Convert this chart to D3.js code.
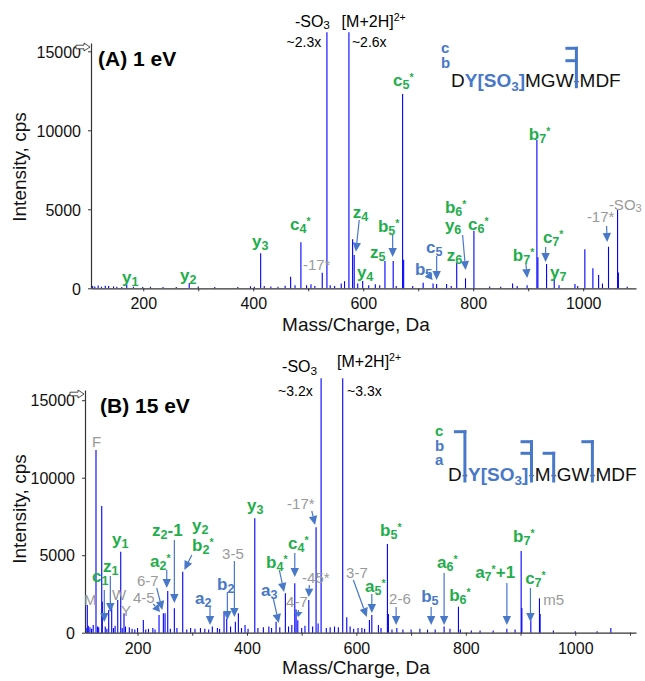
<!DOCTYPE html>
<html><head><meta charset="utf-8">
<script src="https://cdn.jsdelivr.net/npm/d3@7"></script>
<style>
body{margin:0;background:#fff}
svg{display:block}
text{font-family:"Liberation Sans",Arial,Helvetica,sans-serif}
</style>
</head><body>
<svg id="chart" width="645" height="681"></svg>
<script>
// ---------------- DATA ----------------
const xTicks = [100,200,300,400,500,600,700,800,900,1000,1100];
const xTickLabels = [200,400,600,800,1000];
const yTicks = [0,5000,10000,15000];
const panelTitles = ["(A) 1 eV","(B) 15 eV"];
const xTitle = "Mass/Charge, Da";
const yTitle = "Intensity, cps";

// Panel A (1 eV): m/z and intensity of sticks
const massA = [108,112,118,124,131,137,146,152,161,170,182,199,213,236,260,283.6,300,330,372,395,402,413.5,420,432,445,458,468,476,486.7,497,505,512,525.5,534,540,548,560,566,574,580.7,583.6,590,599,610,622,630,639.5,654.5,660,671.6,673.5,690,709,727,733.5,751.6,760,770,786,801.3,830,850,871.6,880,898,915.8,917.6,933.4,947.3,956,985,990,1003,1017.6,1028,1035,1046,1062.5,1064,1080];
const intA  = [150,120,180,100,160,140,120,100,90,220,100,80,100,80,90,330,110,80,90,130,100,2215,140,120,100,160,730,200,2910,200,260,150,990,16200,200,150,300,450,16200,3100,2100,300,460,200,250,200,1730,1730,150,12300,1800,150,350,300,280,280,150,1620,630,3650,120,100,300,150,200,9390,1960,1540,630,200,280,150,2470,1270,840,300,2630,4960,1000,100];

// Panel B (15 eV)
const massB = [106,108.2,110,113,116,119,124.1,127,129,134.6,135.6,141,144,147.3,152.8,156,159,163.8,169.3,172,175.3,178,185,190,195,200,210.6,215,220,228,232,239.3,247.2,250.3,255.2,260,267.3,272,282.6,290,297,305,315,323,330,336.7,346,350,358.1,363,370,378.8,384.3,390,396.5,402,414.3,420,430,440,445,453.2,460,470.2,476,482,487.4,489.8,492.9,500,506,513,520,526.3,530,535.5,545,552,560,567,575,582.4,588.5,595,603,610,615,623.8,628.2,640.2,645,656.7,658.5,665,673.9,685,700,716,730,744,760.3,771,786.5,790,810,826,850,875,890,901.1,902.4,918.8,934.6,935.8,960,1000,1040,1065];
const intB  = [300,1790,450,350,250,500,11790,400,350,8170,2000,400,250,1460,1680,300,450,2110,5230,300,1250,400,350,250,200,300,820,200,250,300,200,1140,1250,1250,2690,250,1570,300,3940,200,300,250,300,250,200,400,300,250,1355,900,400,710,1250,300,500,250,7380,300,350,400,300,700,350,2540,400,500,3190,1500,800,300,450,2110,400,6800,600,16410,300,350,400,350,16410,1000,400,250,300,300,250,820,1140,500,300,5720,1200,200,300,200,200,250,200,200,400,250,1680,200,150,150,150,250,200,5270,1600,800,2220,1200,150,100,100,300];

// Annotations: [text, m/z anchor, intensity anchor, kind]
// kind: g = green fragment, b = blue fragment, k = grey note, K = black note, s = small black note
const labelsA = [
 ["y_{1}",161.3,335,"g"],["y_{2}",266.7,462,"g"],["y_{3}",397.6,2614,"g"],
 ["c_{4}^{*}",466.7,3690,"g"],["-17*",490.4,1158,"k"],["z_{4}",581,4449,"g"],
 ["y_{4}",588.5,652,"g"],["z_{5}",612.2,1918,"g"],["b_{5}^{*}",626.7,3563,"g"],
 ["c_{5}^{*}",654,12804,"g"],["b_{5}",694,842,"b"],["c_{5}",714,2234,"b"],
 ["z_{6}",752,1728,"g"],["b_{6}^{*}",748.5,4766,"g"],["y_{6}",748.5,3626,"g"],
 ["c_{6}^{*}",790.4,3690,"g"],["b_{7}^{*}",872,1728,"g"],["b_{7}^{*}",901,9386,"g"],
 ["c_{7}^{*}",926.7,2867,"g"],["y_{7}",939.5,652,"g"],["-17*",1006.7,4196,"k"],
 ["-SO_{3}",1046.7,4956,"k"],
 ["-SO_{3}",475.8,16557,"K"],["[M+2H]^{2+}",560.7,16557,"K"],
 ["~2.3x",460.7,15291,"s"],["~2.6x",579.5,15291,"s"]
];
// arrows: [m/z start, intensity start, m/z end, intensity end]
const arrowsA = [
 [592.7,4323,586.7,2316],[653.5,3373,653.5,1981],[733.5,2044,733.5,525],
 [714,1032,726.2,525],[780.7,3373,786.2,1158],[895.8,1538,898.2,652],
 [931.6,2614,931.6,1665],[1042.5,3943,1043.6,2930]
];

const labelsB = [
 ["-SO_{3}",464.2,16821,"K"],["~3.2x",456.9,15272,"s"],
 ["[M+2H]^{2+}",564.7,17163,"K"],["~3.3x",583,15272,"s"],
 ["F",116.8,11981,"k"],["M",102.2,1787,"k"],["W",153.4,2110,"k"],["Y",169.8,1077,"k"],
 ["c_{1}",116.8,3271,"g"],["z_{1}",136.9,3916,"g"],["y_{1}",153.4,5658,"g"],
 ["a_{2}^{*}",222.9,4239,"g"],["z_{2}-1",226.5,6239,"g"],["6-7",199,3013,"k"],
 ["4-5",191.8,1916,"k"],["y_{2}",299.6,6562,"g"],["b_{2}^{*}",299.6,5271,"g"],
 ["a_{2}",305.1,1852,"b"],["3-5",354.5,4755,"k"],["b_{2}",345.3,2755,"b"],
 ["y_{3}",400.2,7852,"g"],["a_{3}",425.8,2368,"b"],["b_{4}^{*}",434.9,4174,"g"],
 ["c_{4}^{*}",475.1,5400,"g"],["-17*",473.3,7981,"k"],["-45*",500.7,3207,"k"],
 ["4-7",471.5,1658,"k"],["b_{5}^{*}",643.3,6239,"g"],["3-7",581.2,3529,"k"],
 ["a_{5}^{*}",615.9,2626,"g"],["2-6",659.8,1852,"k"],["b_{5}",718.3,1981,"b"],
 ["a_{6}^{*}",747.5,4174,"g"],["b_{6}^{*}",769.5,2045,"g"],["a_{7}^{*}+1",817,3529,"g"],
 ["b_{7}^{*}",886.3,5852,"g"],["c_{7}^{*}",908.4,3142,"g"],["m5",941.3,1787,"k"]
];
const arrowsB = [
 [139.3,2755,139.3,690],[150.3,3658,150.3,1336],[267.3,5981,267.3,1916],
 [253.4,4045,253.4,2884],[235.1,2884,245.3,1465],[228.9,1852,241.1,1336],
 [299.1,5013,285.6,4045],[332.5,1658,332.5,497],[377,4626,377,1013],
 [364.2,2626,364.2,820],[448.3,2174,458.1,626],[459.2,4045,467.8,2626],
 [487.4,5142,487.4,3594],[514,3077,513,2303],[494,1465,494,1013],
 [518.5,7852,524.5,6949],[594.5,3400,619,1013],[628.2,2497,628.2,1271],
 [672.6,1658,672.6,497],[736.6,1658,736.6,497],[760.3,3852,760.3,497],
 [875,3207,875,497],[918.1,2884,918.1,690]
];

// Peptide sequence annotations: [text, style]
const seqA = [["D","k"],["Y[SO","b"],["3","bs"],["]","b"],["MGW","k"],["-","d"],["MDF","k"]];
const seqB = [["D","k"],["-","d"],["Y[SO","b"],["3","bs"],["]","b"],["-","d"],["M","k"],["-","d"],["GW","k"],["-","d"],["MDF","k"]];
const ionsA = [["c","b"],["b","b"]];
const ionsB = [["c","g"],["b","b"],["a","b"]];
// cleavage brackets: [separator number, ion types shown]
const cutsA = [[0,["c","b"]]];
const cutsB = [[0,["c"]],[1,["b","a"]],[2,["a"]],[3,["b"]]];

// ---------------- STYLE / LAYOUT ----------------
const GREEN="#1fae4c", BLUE="#4878c8", GREY="#9a9a9a", PEAK="#0000ff";
const kinds = {
  g:{size:17,weight:"bold",fill:GREEN},
  b:{size:17,weight:"bold",fill:BLUE},
  k:{size:15,weight:"normal",fill:GREY},
  K:{size:16,weight:"normal",fill:"#000"},
  s:{size:14,weight:"normal",fill:"#000"}
};

const svg = d3.select("#chart");

const panels = [
  {mass:massA, inten:intA, labels:labelsA, arrows:arrowsA, title:panelTitles[0],
   left:91, right:636, top:43, bottom:288.3, xdom:[105,1096], ymax:15525,
   titleX:98, titleY:66, xtitleY:331, ytitleY:167, tickPad:6,
   seq:seqA, ions:ionsA, cuts:cutsA, seqX:451, seqY:86.7, ionX:441,
   ionY:[-33.7,-18.7], lev:{c:-38.4,b:-26}},
  {mass:massB, inten:intB, labels:labelsB, arrows:arrowsB, title:panelTitles[1],
   left:85, right:636, top:390, bottom:632.7, xdom:[104,1111], ymax:15659,
   titleX:100, titleY:413, xtitleY:674, ytitleY:509, tickPad:7,
   seq:seqB, ions:ionsB, cuts:cutsB, seqX:448, seqY:481, ionX:435,
   ionY:[-45,-30,-16], lev:{c:-49.3,b:-39.3,a:-27.7}}
];

function richText(g, str, x, y, k){
  const st = kinds[k];
  const t = g.append("text").attr("x",x).attr("y",y)
    .attr("font-size",st.size).attr("font-weight",st.weight).attr("fill",st.fill);
  const parts = str.match(/_\{[^}]*\}|\^\{[^}]*\}|[^_^]+/g);
  let off = 0;
  parts.forEach(p=>{
    let txt=p, target=0, fs=st.size;
    if(p[0]==="_"){txt=p.slice(2,-1); target=st.size*0.16; fs=st.size*0.74;}
    else if(p[0]==="^"){txt=p.slice(2,-1);
      if(txt==="*"){target=-st.size*0.32; fs=st.size*0.62;}
      else {target=-st.size*0.38; fs=st.size*0.66;}}
    t.append("tspan").attr("dy",target-off).attr("font-size",fs).text(txt);
    off = target;
  });
  return t;
}

panels.forEach(P=>{
  const g = svg.append("g");
  const x = d3.scaleLinear().domain(P.xdom).range([P.left,P.right]);
  const y = d3.scaleLinear().domain([0,P.ymax]).range([P.bottom,P.top]);

  // sticks
  const peaks = P.mass.map((m,i)=>({m, v:P.inten[i]}));
  g.append("g").selectAll("line").data(peaks).join("line")
    .attr("x1",d=>x(d.m)).attr("x2",d=>x(d.m))
    .attr("y1",y(0)).attr("y2",d=>y(d.v))
    .attr("stroke",PEAK).attr("stroke-width",1.1);

  // axes
  const xa = g.append("g").attr("transform",`translate(0,${P.bottom})`)
    .call(d3.axisBottom(x).tickValues(xTicks.filter(t=>t>=P.xdom[0]&&t<=P.xdom[1]))
      .tickFormat(t=>xTickLabels.includes(t)?String(t):"")
      .tickSize(3).tickSizeOuter(0).tickPadding(P.tickPad));
  const ya = g.append("g").attr("transform",`translate(${P.left},0)`)
    .call(d3.axisLeft(y).tickValues(yTicks).tickFormat(d3.format("d"))
      .tickSize(3).tickSizeOuter(0).tickPadding(7));
  [xa,ya].forEach(a=>{
    a.selectAll("text").attr("font-size",16).attr("fill","#111")
      .attr("font-family",'"Liberation Sans",Arial,sans-serif');
    a.selectAll("line").attr("stroke","#333");
    a.select(".domain").attr("stroke","#333").attr("stroke-width",1.2);
  });
  ya.selectAll("text").attr("dy","0.36em");

  // hollow arrow marker at top of y axis
  const ax = P.left, ay = P.top+4;
  g.append("path")
    .attr("d",`M${ax-15},${ay-1.8}L${ax-7},${ay-1.8}L${ax-7},${ay-4}L${ax-1},${ay}L${ax-7},${ay+4}L${ax-7},${ay+1.8}L${ax-15},${ay+1.8}Z`)
    .attr("fill","#fff").attr("stroke","#222").attr("stroke-width",0.8);

  // titles
  g.append("text").attr("x",P.titleX).attr("y",P.titleY)
    .attr("font-size",21).attr("font-weight","bold").text(P.title);
  g.append("text").attr("x",356).attr("y",P.xtitleY).attr("text-anchor","middle")
    .attr("font-size",19).attr("fill","#111").text(xTitle);
  g.append("text").attr("transform",`translate(26,${P.ytitleY}) rotate(-90)`)
    .attr("text-anchor","middle").attr("font-size",19).attr("fill","#111").text(yTitle);

  // arrows
  P.arrows.forEach(a=>{
    const x1=x(a[0]), y1=y(a[1]), x2=x(a[2]), y2=y(a[3]);
    const dx=x2-x1, dy=y2-y1, L=Math.hypot(dx,dy), ux=dx/L, uy=dy/L;
    const hl=Math.min(9,L*0.7), hw=4.2;
    const bx=x2-ux*hl, by=y2-uy*hl;
    g.append("line").attr("x1",x1).attr("y1",y1).attr("x2",bx).attr("y2",by)
      .attr("stroke",BLUE).attr("stroke-width",1.2);
    g.append("path").attr("d",`M${x2},${y2}L${bx-uy*hw},${by+ux*hw}L${bx+uy*hw},${by-ux*hw}Z`)
      .attr("fill",BLUE);
  });

  // labels
  P.labels.forEach(l=>richText(g,l[0],x(l[1]),y(l[2]),l[3]));

  // sequence
  const st = g.append("text").attr("x",P.seqX).attr("y",P.seqY).attr("font-size",19);
  let off=0, sepIdx=[], count=0;
  P.seq.forEach(s=>{
    const ts = st.append("tspan").text(s[0]);
    let target=0;
    if(s[1]==="k"){ts.attr("fill","#111");}
    else if(s[1]==="d"){ts.attr("fill","#555"); sepIdx.push(count);}
    else if(s[1]==="b"){ts.attr("fill",BLUE).attr("font-weight","bold");}
    else if(s[1]==="bs"){ts.attr("fill",BLUE).attr("font-weight","bold").attr("font-size",13.5); target=4;}
    ts.attr("dy",target-off); off=target;
    count += s[0].length;
  });
  P.ions.forEach((io,i)=>{
    g.append("text").attr("x",P.ionX).attr("y",P.seqY+P.ionY[i])
      .attr("font-size",15).attr("font-weight","bold")
      .attr("fill",io[1]==="g"?GREEN:BLUE).text(io[0]);
  });
  const node = st.node();
  P.cuts.forEach(c=>{
    const ci = sepIdx[c[0]];
    const s0 = node.getStartPositionOfChar(ci).x, e0 = node.getEndPositionOfChar(ci).x;
    const cx = (s0+e0)/2;
    const topLev = Math.min(...c[1].map(k=>P.lev[k]));
    g.append("line").attr("x1",cx).attr("x2",cx)
      .attr("y1",P.seqY+topLev-1.5).attr("y2",P.seqY+1.5)
      .attr("stroke",BLUE).attr("stroke-width",3);
    c[1].forEach(k=>{
      g.append("line").attr("x1",cx-11).attr("x2",cx+1.5)
        .attr("y1",P.seqY+P.lev[k]).attr("y2",P.seqY+P.lev[k])
        .attr("stroke",BLUE).attr("stroke-width",3);
    });
  });
});
</script>
</body></html>
